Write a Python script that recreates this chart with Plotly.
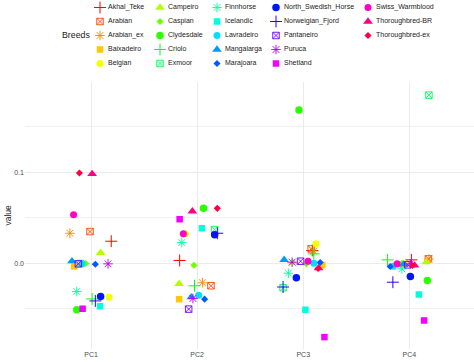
import colorsys
import plotly.graph_objects as go

breeds = ["Akhal_Teke", "Arabian", "Arabian_ex", "Baixadeiro", "Belgian", "Campeiro",
          "Caspian", "Clydesdale", "Criolo", "Exmoor", "Finnhorse", "Icelandic",
          "Lavradeiro", "Mangalarga", "Marajoara", "North_Swedish_Horse",
          "Norweigian_Fjord", "Pantaneiro", "Puruca", "Shetland", "Swiss_Warmblood",
          "Thoroughbred-BR", "Thoroughbred-ex"]
components = ["PC1", "PC2", "PC3", "PC4"]

pc1 = [0.0242, 0.0348, 0.0330, -0.0036, -0.0374, 0.0114, -0.0003, -0.0512, -0.0393, -0.0003,
       -0.0311, -0.0473, -0.0007, 0.0022, -0.0011, -0.0366, -0.0415, -0.0007, -0.0007, -0.0501,
       0.0532, 0.0982, 0.0993]
pc2 = [0.0030, -0.0248, -0.0215, -0.0396, 0.0323, -0.0226, -0.0022, 0.0604, -0.0248, 0.0370,
       0.0227, 0.0385, -0.0352, -0.0374, -0.0396, 0.0312, 0.0330, -0.0505, -0.0388, 0.0484,
       0.0323, 0.0571, 0.0604]
pc3 = [0.0140, 0.0158, 0.0134, -0.0020, 0.0213, 0.0008, -0.0007, 0.1686, 0.0103, -0.0270,
       -0.0110, -0.0512, 0.0000, 0.0037, 0.0008, -0.0160, -0.0262, 0.0022, 0.0011, -0.0813,
       0.0022, -0.0055, -0.0058]
pc4 = [0.0037, 0.0048, 0.0046, -0.0014, -0.0009, 0.0011, 0.0000, -0.0190, 0.0037, 0.1850,
       -0.0062, -0.0344, -0.0033, -0.0014, -0.0036, -0.0146, -0.0209, -0.0018, -0.0007, -0.0630,
       -0.0007, -0.0025, -0.0025]

# horizontal jitter offsets (category units) as seen in the picture
jit1 = [0.19, -0.01, -0.20, -0.16, 0.17, 0.09, -0.05, -0.135, 0.01, -0.10, -0.135, 0.085,
        -0.085, -0.18, 0.04, 0.09, 0.04, -0.12, 0.16, -0.08, -0.165, 0.01, -0.11]
jit2 = [-0.165, 0.13, 0.05, -0.17, -0.11, -0.17, -0.03, 0.06, -0.025, 0.165, -0.145, 0.045,
        0.015, -0.055, 0.07, 0.165, 0.19, -0.08, -0.04, -0.165, -0.13, -0.045, 0.19]
jit3 = [0.085, 0.075, 0.10, 0.18, 0.12, -0.10, 0.03, -0.04, 0.10, -0.19, -0.14, 0.02,
        0.10, -0.18, 0.16, -0.065, -0.19, -0.025, -0.105, 0.20, 0.045, 0.145, 0.14]
jit4 = [0.02, 0.18, 0.185, -0.085, -0.04, 0.16, -0.07, 0.17, -0.205, 0.185, -0.07, 0.09,
        -0.15, -0.055, -0.18, 0.01, -0.155, -0.015, 0.01, 0.14, -0.115, 0.05, 0.03]

# ggplot-like shape cycle
shape_cycle = [
    dict(symbol="cross-thin-open", size=8.5, line=1.0),
    dict(symbol="square-x-open", size=6.5, line=0.9),
    dict(symbol="asterisk-open", size=8, line=0.9),
    dict(symbol="square", size=6.5, line=0),
    dict(symbol="circle", size=7, line=0),
    dict(symbol="triangle-up", size=8.5, line=0),
    dict(symbol="diamond", size=5.5, line=0),
    dict(symbol="circle", size=7.5, line=0),
]


def rainbow(i, n):
    r, g, b = colorsys.hsv_to_rgb(i / n, 1, 1)
    return "rgb(%d,%d,%d)" % (round(r * 255), round(g * 255), round(b * 255))


n = len(breeds)
colors = [rainbow(i, n) for i in range(n)]
FONT = "Liberation Sans, Arial, sans-serif"

fig = go.Figure()

for i, b in enumerate(breeds):
    sh = shape_cycle[i % len(shape_cycle)]
    xs = [1 + jit1[i], 2 + jit2[i], 3 + jit3[i], 4 + jit4[i]]
    ys = [pc1[i], pc2[i], pc3[i], pc4[i]]
    fig.add_trace(go.Scatter(
        x=xs, y=ys, mode="markers", name=b, showlegend=False,
        marker=dict(symbol=sh["symbol"], size=sh["size"], color=colors[i],
                    line=dict(width=sh["line"], color=colors[i])),
        xaxis="x", yaxis="y",
    ))

# legend drawn on a hidden helper axis (pixel-like coordinates)
col_x = [100, 160, 217, 276, 368]
row_y0, row_dy, nrows = 7.5, 14, 5
leg_x, leg_y, leg_tx = [], [], []
for i, b in enumerate(breeds):
    c, r = divmod(i, nrows)
    sh = shape_cycle[i % len(shape_cycle)]
    fig.add_trace(go.Scatter(
        x=[col_x[c]], y=[row_y0 + r * row_dy], mode="markers", showlegend=False,
        marker=dict(symbol=sh["symbol"], size=sh["size"], color=colors[i],
                    line=dict(width=sh["line"], color=colors[i])),
        xaxis="x2", yaxis="y2", hoverinfo="skip",
    ))
    leg_x.append(col_x[c] + 8)
    leg_y.append(row_y0 + r * row_dy)
    leg_tx.append(b)

fig.add_trace(go.Scatter(
    x=leg_x, y=leg_y, text=leg_tx, mode="text", textposition="middle right",
    textfont=dict(size=7, color="#1A1A1A", family=FONT),
    showlegend=False, xaxis="x2", yaxis="y2", hoverinfo="skip",
))

H, PLOT_TOP, PLOT_BOT = 362, 82, 349
main_top = 1 - PLOT_TOP / PLOT_BOT
leg_bottom = 1 - 77 / PLOT_BOT

fig.update_layout(
    template="none",
    width=474, height=362,
    margin=dict(l=25, r=0, t=0, b=H - PLOT_BOT, pad=0),
    plot_bgcolor="white", paper_bgcolor="white",
    font=dict(family=FONT, color="#4D4D4D", size=7),
    xaxis=dict(range=[0.377, 4.61], tickvals=[1, 2, 3, 4], ticktext=components,
               showgrid=True, gridcolor="#EBEBEB", gridwidth=1, zeroline=False,
               showline=False, ticks="", ticklen=0, automargin=False,
               tickfont=dict(size=7, color="#4D4D4D"),
               domain=[0, 1], anchor="y"),
    yaxis=dict(range=[-0.0944, 0.1994], tickvals=[0.0, 0.1], ticktext=["0.0", "0.1"],
               showgrid=True, gridcolor="#EBEBEB", gridwidth=1, zeroline=False,
               showline=False, ticks="", ticklen=0, automargin=False,
               tickfont=dict(size=7, color="#4D4D4D"),
               minor=dict(tick0=0.05, dtick=0.1, showgrid=True, gridcolor="#F0F0F0",
                          gridwidth=0.6),
               domain=[0, main_top], anchor="x"),
    xaxis2=dict(range=[25, 474], visible=False, domain=[0, 1], anchor="y2",
                automargin=False),
    yaxis2=dict(range=[77, 0], visible=False, domain=[leg_bottom, 1], anchor="x2",
                automargin=False),
    annotations=[
        dict(text="value", xref="paper", yref="paper", x=-0.04, y=main_top / 2,
             textangle=-90, showarrow=False, xanchor="center", yanchor="middle",
             font=dict(size=8.5, color="#1A1A1A")),
        dict(text="Breeds", xref="x2", yref="y2", x=60, y=35, xanchor="left",
             yanchor="middle", showarrow=False, font=dict(size=8.8, color="#1A1A1A")),
    ],
)

fig.write_html("out.html", config={"displayModeBar": False},
               post_script="document.body.style.margin='0';document.body.style.padding='0';")
